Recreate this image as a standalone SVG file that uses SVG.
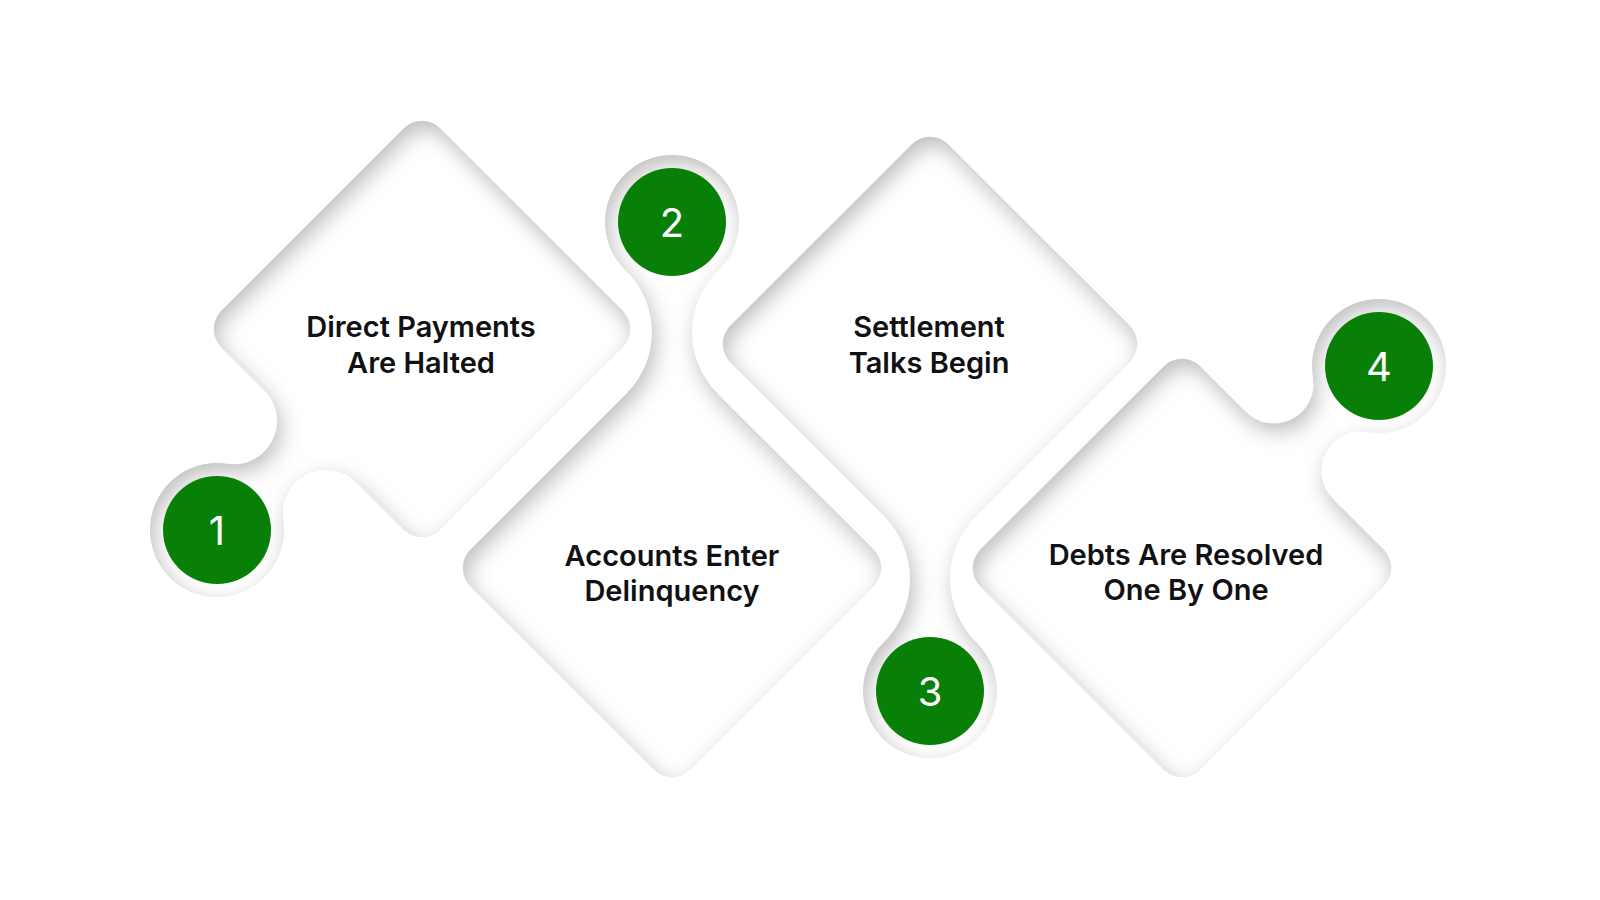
<svg xmlns="http://www.w3.org/2000/svg" width="1600" height="900" viewBox="0 0 1600 900">
  <defs>
    <filter id="inset" filterUnits="userSpaceOnUse" x="0" y="0" width="1600" height="900" color-interpolation-filters="sRGB">
      <feComponentTransfer in="SourceAlpha" result="inv">
        <feFuncA type="table" tableValues="1 0"/>
      </feComponentTransfer>
      <feGaussianBlur in="inv" stdDeviation="10.5" result="blur"/>
      <feOffset in="blur" dx="4" dy="8" result="off"/>
      <feFlood flood-color="#000000" flood-opacity="0.26" result="col"/>
      <feComposite in="col" in2="off" operator="in" result="sh"/>
      <feComposite in="sh" in2="SourceAlpha" operator="in" result="ish"/>
      <feMerge>
        <feMergeNode in="SourceGraphic"/>
        <feMergeNode in="ish"/>
      </feMerge>
    </filter>
  </defs>
  <style>
    .base { fill: #ffffff; }
    .badge { fill: #088008; }
    .num { font-family: Inter, "Liberation Sans", sans-serif; font-size: 40px; font-weight: 400; fill: #ffffff; text-anchor: middle; }
    .label { font-family: Inter, "Liberation Sans", sans-serif; font-size: 29px; font-weight: 600; fill: #111114; text-anchor: middle; }
  </style>
  <rect width="1600" height="900" fill="#ffffff"/>

  <g id="step-1">
    <g filter="url(#inset)" class="base">
      <path d="M440.4 128.4 L622.6 310.6 A26 26 0 0 1 622.6 347.4 L440.4 529.6 A26 26 0 0 1 403.6 529.6 L221.4 347.4 A26 26 0 0 1 221.4 310.6 L403.6 128.4 A26 26 0 0 1 440.4 128.4 Z"/>
      <path d="M227.13 463.77 A43.33 43.33 0 0 0 264.31 390.31 L338.78 408.22 L356.69 482.69 A43.33 43.33 0 0 0 283.23 519.87 L217 530 Z"/>
      <circle cx="217" cy="530" r="67"/>
    </g>
    <circle class="badge" cx="217" cy="530" r="54"/>
    <text class="num" x="217" y="544.5">1</text>
    <text class="label" x="421" y="337">Direct Payments</text>
    <text class="label" x="421" y="373">Are Halted</text>
  </g>

  <g id="step-2">
    <g filter="url(#inset)" class="base">
      <path d="M690.4 366.4 L873.6 549.6 A26 26 0 0 1 873.6 586.4 L690.4 769.6 A26 26 0 0 1 653.6 769.6 L470.4 586.4 A26 26 0 0 1 470.4 549.6 L653.6 366.4 A26 26 0 0 1 690.4 366.4 Z"/>
      <path d="M625.57 270.27 A86.1 86.1 0 0 1 626.78 393.18 L672 440 L717.22 393.18 A86.1 86.1 0 0 1 718.43 270.27 L672 222 Z"/>
      <circle cx="672" cy="222" r="67"/>
    </g>
    <circle class="badge" cx="672" cy="222" r="54"/>
    <text class="num" x="672" y="236.5">2</text>
    <text class="label" x="672" y="566">Accounts Enter</text>
    <text class="label" x="672" y="601">Delinquency</text>
  </g>

  <g id="step-3">
    <g filter="url(#inset)" class="base">
      <path d="M948.4 144.4 L1129.6 325.6 A26 26 0 0 1 1129.6 362.4 L948.4 543.6 A26 26 0 0 1 911.6 543.6 L730.4 362.4 A26 26 0 0 1 730.4 325.6 L911.6 144.4 A26 26 0 0 1 948.4 144.4 Z"/>
      <path d="M883.11 643.14 A89.6 89.6 0 0 0 883.76 515.77 L930 470 L976.24 515.77 A89.6 89.6 0 0 0 976.89 643.14 L930 691 Z"/>
      <circle cx="930" cy="691" r="67"/>
    </g>
    <circle class="badge" cx="930" cy="691" r="54"/>
    <text class="num" x="930" y="705.5">3</text>
    <text class="label" x="929" y="337">Settlement</text>
    <text class="label" x="929" y="373">Talks Begin</text>
  </g>

  <g id="step-4">
    <g filter="url(#inset)" class="base">
      <path d="M1200.4 366.4 L1383.6 549.6 A26 26 0 0 1 1383.6 586.4 L1200.4 769.6 A26 26 0 0 1 1163.6 769.6 L980.4 586.4 A26 26 0 0 1 980.4 549.6 L1163.6 366.4 A26 26 0 0 1 1200.4 366.4 Z"/>
      <path d="M1312.96 377.3 A39.58 39.58 0 0 1 1245.96 411.95 L1261.22 483.78 L1333.05 499.04 A39.58 39.58 0 0 1 1367.7 432.04 L1379 366 Z"/>
      <circle cx="1379" cy="366" r="67"/>
    </g>
    <circle class="badge" cx="1379" cy="366" r="54"/>
    <text class="num" x="1379" y="380.5">4</text>
    <text class="label" x="1186" y="565">Debts Are Resolved</text>
    <text class="label" x="1186" y="600">One By One</text>
  </g>
</svg>
